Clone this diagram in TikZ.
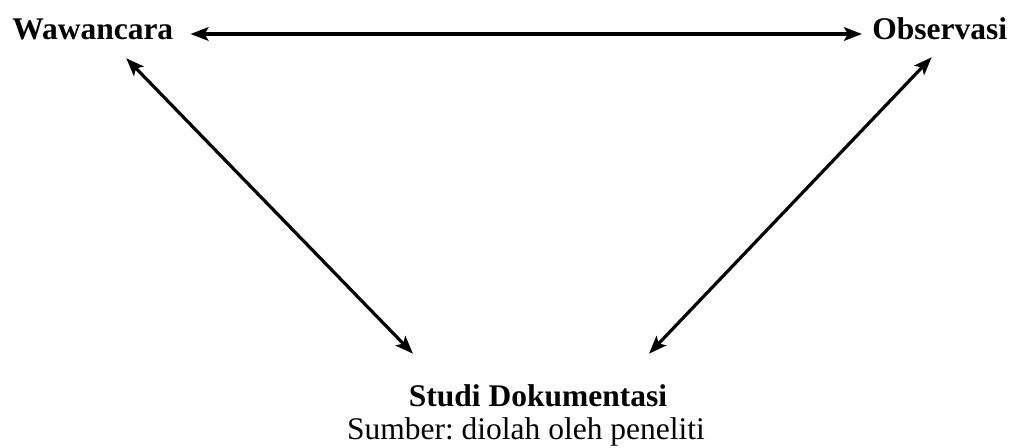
\documentclass[tikz,border=0pt]{standalone}
\usepackage{fontspec}
\setmainfont{Liberation Serif}
\frenchspacing
\usetikzlibrary{arrows.meta}
\tikzstyle{method} = [
    inner sep=0pt,
    text height=5.25mm,
    text depth=0pt,
    font=\fontsize{22.4}{27}\selectfont\bfseries
]
\tikzstyle{source} = [
    inner sep=0pt,
    font=\fontsize{22.4}{27}\selectfont
]
\tikzstyle{arrow} = [line width=0.8mm,{Stealth[length=4.5mm,width=3.4mm,inset=1mm]}-{Stealth[length=4.5mm,width=3.4mm,inset=1mm]}]

\begin{document}
\begin{tikzpicture}[x=0.25mm,y=-0.25mm]
\useasboundingbox (0,0) rectangle (1014,448);

\node (wawancara) [method, anchor=base west] at (12,40) {Wawancara};

\node (observasi) [method, anchor=base west] at (872,40) {Observasi};

\node (studi) [method, anchor=base] at (538,407) {Studi Dokumentasi};

\node (sumber) [source, anchor=base] at (526,440) {Sumber: diolah oleh peneliti};

\draw [arrow] ([shift={(17,4.5)}]wawancara.east) -- ([shift={(-10,4.5)}]observasi.west);
\draw [arrow] ([shift={(33.5,18)}]wawancara.south) -- ([shift={(-125,-32)}]studi.north);
\draw [arrow] ([shift={(-8,17)}]observasi.south) -- ([shift={(111,-32)}]studi.north);

\end{tikzpicture}
\end{document}
